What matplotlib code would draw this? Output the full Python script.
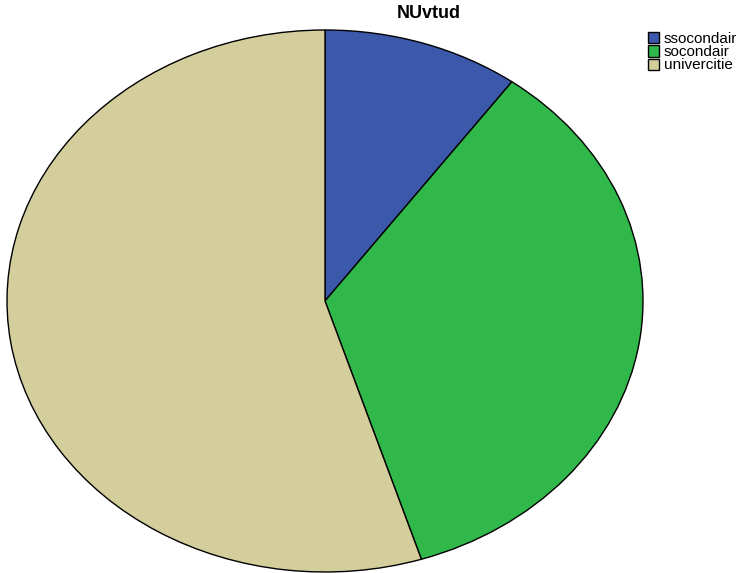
import matplotlib
matplotlib.use("Agg")
import matplotlib.pyplot as plt

categories = ["ssocondair", "socondair", "univercitie"]
values = [10.0, 35.1, 54.9]
colors = ["#3c58ab", "#30b84b", "#d3ce9b"]
title = "NUvtud"

plt.rcParams['font.family'] = ['Liberation Sans', 'DejaVu Sans']

W, H = 736, 573
fig = plt.figure(figsize=(W/100, H/100), dpi=100)
ax = fig.add_axes([7/W, 1/H, 636/W, 542/H])
wedges, _ = ax.pie(values, colors=colors, startangle=90, counterclock=False,
                   wedgeprops=dict(edgecolor="black", linewidth=1.0))
ax.set_aspect('auto')
ax.set_xlim(-1, 1)
ax.set_ylim(-1, 1)
ax.axis('off')

fig.text(429/W, 1-14/H, title, ha='center', va='center', fontsize=13, fontweight='bold')

fig.legend(wedges, categories, loc='upper left', bbox_to_anchor=(648/W, 1-32/H),
           frameon=False, fontsize=11, handlelength=0.75, handleheight=0.75,
           handletextpad=0.3, labelspacing=-0.05, borderpad=0, borderaxespad=0)

fig.savefig("out.png", dpi=100)
